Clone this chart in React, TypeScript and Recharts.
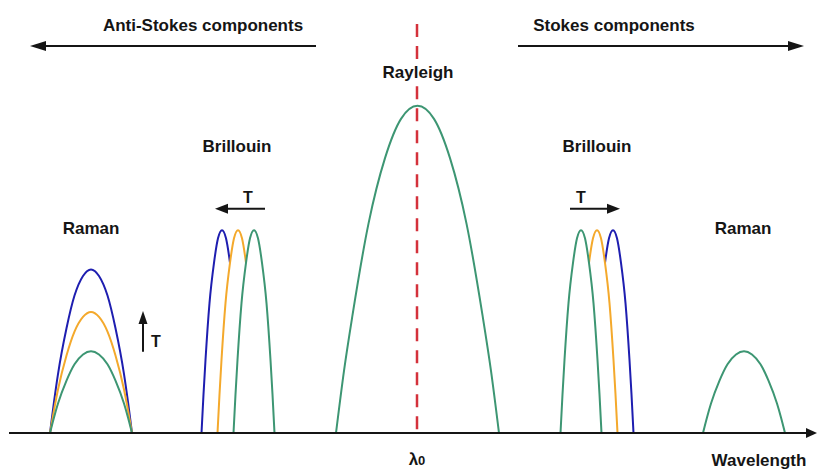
import React from 'react';
import { ComposedChart, Area, XAxis, YAxis, ReferenceLine, ReferenceDot } from 'recharts';

type P = [number, number];

// Wavelength (arbitrary units) / intensity (arbitrary units) pairs
const ramanAntiBlue: P[] = [[40, 0], [44, 9.5], [48, 18], [56.5, 32], [64.5, 42], [73, 48], [81, 50], [89, 48], [97.5, 42], [105.5, 32], [114, 18], [118, 9.5], [122, 0]];
const ramanAntiOrange: P[] = [[40, 0], [44, 7], [48, 13.3], [56.5, 23.7], [64.5, 31], [73, 35.5], [81, 37], [89, 35.5], [97.5, 31], [105.5, 23.7], [114, 13.3], [118, 7], [122, 0]];
const ramanAntiGreen: P[] = [[40, 0], [44, 4.75], [48, 9], [56.5, 16], [64.5, 21], [73, 24], [81, 25], [89, 24], [97.5, 21], [105.5, 16], [114, 9], [118, 4.75], [122, 0]];

const brillouinAntiBlue: P[] = [[191.5, 0], [193.5, 11.8], [195.5, 22.3], [199.5, 39.7], [204, 52], [208, 59.5], [212, 62], [216, 59.5], [220, 52], [224.5, 39.7], [228.5, 22.3], [230.5, 11.8], [232.5, 0]];
const brillouinAntiOrange: P[] = [[207.5, 0], [209.5, 11.8], [211.5, 22.3], [215.5, 39.7], [220, 52], [224, 59.5], [228, 62], [232, 59.5], [236, 52], [240.5, 39.7], [244.5, 22.3], [246.5, 11.8], [248.5, 0]];
const brillouinAntiGreen: P[] = [[223.5, 0], [225.5, 11.8], [227.5, 22.3], [231.5, 39.7], [236, 52], [240, 59.5], [244, 62], [248, 59.5], [252, 52], [256.5, 39.7], [260.5, 22.3], [262.5, 11.8], [264.5, 0]];

const rayleigh: P[] = [[326, 0], [334, 19], [342.5, 36], [358.5, 64], [375, 84], [391, 96], [407.5, 100], [424, 96], [440, 84], [456.5, 64], [472.5, 36], [481, 19], [489, 0]];

const brillouinStokesBlue: P[] = [[582.5, 0], [584.5, 11.8], [586.5, 22.3], [590.5, 39.7], [595, 52], [599, 59.5], [603, 62], [607, 59.5], [611, 52], [615.5, 39.7], [619.5, 22.3], [621.5, 11.8], [623.5, 0]];
const brillouinStokesOrange: P[] = [[566.5, 0], [568.5, 11.8], [570.5, 22.3], [574.5, 39.7], [579, 52], [583, 59.5], [587, 62], [591, 59.5], [595, 52], [599.5, 39.7], [603.5, 22.3], [605.5, 11.8], [607.5, 0]];
const brillouinStokesGreen: P[] = [[550.5, 0], [552.5, 11.8], [554.5, 22.3], [558.5, 39.7], [563, 52], [567, 59.5], [571, 62], [575, 59.5], [579, 52], [583.5, 39.7], [587.5, 22.3], [589.5, 11.8], [591.5, 0]];

const ramanStokesGreen: P[] = [[693, 0], [697, 4.75], [701, 9], [709.5, 16], [717.5, 21], [726, 24], [734, 25], [742, 24], [750.5, 21], [758.5, 16], [767, 9], [771, 4.75], [775, 0]];

const lambda0 = 407;

const BLUE = '#1e1eb0';
const ORANGE = '#f4a92c';
const GREEN = '#3d9673';
const RED = '#d4313b';
const INK = '#151515';
const FONT = '"Liberation Sans", Arial, sans-serif';

const toRows = (pts: P[]) => pts.map(([x, y]) => ({ x, y }));

const head = (dir: 'l' | 'r' | 'u', len = 15, w = 5) => (props: any) => {
  const { cx, cy } = props;
  let pts = '';
  if (dir === 'r') pts = `${cx},${cy} ${cx - len},${cy - w} ${cx - len},${cy + w}`;
  if (dir === 'l') pts = `${cx},${cy} ${cx + len},${cy - w} ${cx + len},${cy + w}`;
  if (dir === 'u') pts = `${cx},${cy} ${cx - w},${cy + len} ${cx + w},${cy + len}`;
  return <polygon points={pts} fill={INK} />;
};

const label = (text: React.ReactNode, size = 17) => (props: any) => {
  const { cx, cy } = props;
  return (
    <text x={cx} y={cy} textAnchor="middle" fontFamily={FONT} fontWeight="bold" fontSize={size} fill={INK}>
      {text}
    </text>
  );
};

const arches: { data: P[]; color: string; fill: string }[] = [
  { data: ramanAntiBlue, color: BLUE, fill: 'none' },
  { data: ramanAntiOrange, color: ORANGE, fill: 'none' },
  { data: ramanAntiGreen, color: GREEN, fill: 'none' },
  { data: brillouinAntiBlue, color: BLUE, fill: '#ffffff' },
  { data: brillouinAntiOrange, color: ORANGE, fill: '#ffffff' },
  { data: brillouinAntiGreen, color: GREEN, fill: '#ffffff' },
  { data: rayleigh, color: GREEN, fill: 'none' },
  { data: brillouinStokesBlue, color: BLUE, fill: '#ffffff' },
  { data: brillouinStokesOrange, color: ORANGE, fill: '#ffffff' },
  { data: brillouinStokesGreen, color: GREEN, fill: '#ffffff' },
  { data: ramanStokesGreen, color: GREEN, fill: 'none' },
];

export default function App() {
  return (
    <div style={{ position: 'absolute', left: 0, top: 0, width: 817, height: 469, background: '#fff' }}>
      <ComposedChart width={817} height={469} margin={{ top: 24, right: 0, bottom: 36, left: 10 }}>
        <XAxis type="number" dataKey="x" domain={[0, 807]} hide allowDataOverflow />
        <YAxis type="number" dataKey="y" domain={[0, 125]} hide allowDataOverflow />

        {arches.map((a, i) => (
          <Area
            key={i}
            data={toRows(a.data)}
            dataKey="y"
            type="monotone"
            stroke={a.color}
            strokeWidth={2}
            fill={a.fill}
            fillOpacity={1}
            dot={false}
            activeDot={false}
            isAnimationActive={false}
          />
        ))}

        {/* red dashed lambda0 line, interrupted by the Rayleigh label */}
        <ReferenceLine segment={[{ x: lambda0, y: 125 }, { x: lambda0, y: 113.5 }]} stroke={RED} strokeWidth={2.5} strokeDasharray="13 9" ifOverflow="visible" />
        <ReferenceLine segment={[{ x: lambda0, y: 106 }, { x: lambda0, y: 0 }]} stroke={RED} strokeWidth={2.5} strokeDasharray="13 9" ifOverflow="visible" />

        {/* wavelength axis */}
        <ReferenceLine segment={[{ x: -1, y: 0 }, { x: 797, y: 0 }]} stroke={INK} strokeWidth={2} ifOverflow="visible" />
        <ReferenceDot x={807} y={0} r={0} ifOverflow="visible" shape={head('r', 11, 5)} />

        {/* Anti-Stokes / Stokes arrows */}
        <ReferenceLine segment={[{ x: 33, y: 118.3 }, { x: 306, y: 118.3 }]} stroke={INK} strokeWidth={2} ifOverflow="visible" />
        <ReferenceDot x={20} y={118.3} r={0} ifOverflow="visible" shape={head('l', 16, 5)} />
        <ReferenceLine segment={[{ x: 508, y: 118.3 }, { x: 781, y: 118.3 }]} stroke={INK} strokeWidth={2} ifOverflow="visible" />
        <ReferenceDot x={794} y={118.3} r={0} ifOverflow="visible" shape={head('r', 16, 5)} />

        {/* T arrows */}
        <ReferenceLine segment={[{ x: 216, y: 68.5 }, { x: 255, y: 68.5 }]} stroke={INK} strokeWidth={2} ifOverflow="visible" />
        <ReferenceDot x={205} y={68.5} r={0} ifOverflow="visible" shape={head('l', 13, 5)} />
        <ReferenceLine segment={[{ x: 560, y: 68.5 }, { x: 599, y: 68.5 }]} stroke={INK} strokeWidth={2} ifOverflow="visible" />
        <ReferenceDot x={610} y={68.5} r={0} ifOverflow="visible" shape={head('r', 13, 5)} />
        <ReferenceLine segment={[{ x: 133, y: 24.8 }, { x: 133, y: 34 }]} stroke={INK} strokeWidth={2} ifOverflow="visible" />
        <ReferenceDot x={133} y={37.3} r={0} ifOverflow="visible" shape={head('u', 13, 4.5)} />

        {/* labels */}
        <ReferenceDot x={193} y={122.9} r={0} ifOverflow="visible" shape={label('Anti-Stokes components')} />
        <ReferenceDot x={604} y={122.9} r={0} ifOverflow="visible" shape={label('Stokes components')} />
        <ReferenceDot x={408} y={108.5} r={0} ifOverflow="visible" shape={label('Rayleigh')} />
        <ReferenceDot x={227} y={85.9} r={0} ifOverflow="visible" shape={label('Brillouin')} />
        <ReferenceDot x={587} y={85.9} r={0} ifOverflow="visible" shape={label('Brillouin')} />
        <ReferenceDot x={238} y={70.3} r={0} ifOverflow="visible" shape={label('T', 16)} />
        <ReferenceDot x={571} y={70.3} r={0} ifOverflow="visible" shape={label('T', 16)} />
        <ReferenceDot x={81} y={60.8} r={0} ifOverflow="visible" shape={label('Raman')} />
        <ReferenceDot x={733} y={60.8} r={0} ifOverflow="visible" shape={label('Raman')} />
        <ReferenceDot x={146} y={26.3} r={0} ifOverflow="visible" shape={label('T', 16)} />
        <ReferenceDot
          x={lambda0}
          y={-9.8}
          r={0}
          ifOverflow="visible"
          shape={label(
            <>
              <tspan>λ</tspan>
              <tspan fontSize={13}>0</tspan>
            </>,
            17
          )}
        />
        <ReferenceDot x={749} y={-10.1} r={0} ifOverflow="visible" shape={label('Wavelength')} />
      </ComposedChart>
    </div>
  );
}
